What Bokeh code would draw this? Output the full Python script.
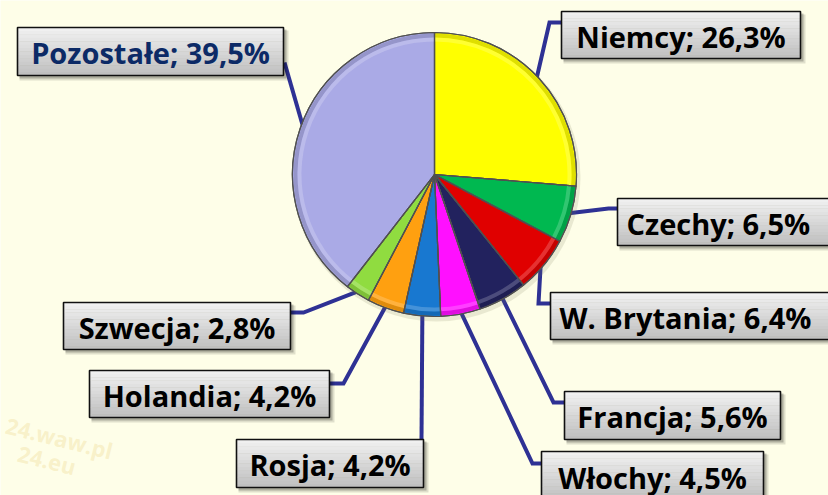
import numpy as np
from bokeh.plotting import figure
from bokeh.models import Range1d
from bokeh.core.properties import value
from bokeh.embed import file_html
from bokeh.resources import INLINE

# ---------------- data ----------------
countries = ["Niemcy", "Czechy", "W. Brytania", "Francja", "Włochy",
             "Rosja", "Holandia", "Szwecja", "Pozostałe"]
shares = [26.3, 6.5, 6.4, 5.6, 4.5, 4.2, 4.2, 2.8, 39.5]
colors = ["#FFFF00", "#00B850", "#E00000", "#22225E", "#FF10FF",
          "#1878D0", "#FFA010", "#90DC40", "#AAAAE6"]
text_colors = ["#000000"] * 8 + ["#0C2A66"]
watermark = ["24.waw.pl", "24.eu"]

# ---------------- layout (reference pixel coords, y down) ----------------
BG = "#FEFEE8"
CX_REF, CY_REF, R = 434, 174, 142
boxes = {  # x0, y0, x1, y1
    "Niemcy": (561, 11, 800, 58),
    "Czechy": (617, 198, 831, 245),
    "W. Brytania": (550, 292, 831, 339),
    "Francja": (564, 391, 780, 439),
    "Włochy": (541, 451, 763, 500),
    "Rosja": (236, 439, 423, 487),
    "Holandia": (89, 370, 329, 417),
    "Szwecja": (63, 302, 290, 349),
    "Pozostałe": (17, 27, 283, 75),
}
elbows = {  # intermediate points, then attach point on the box
    "Niemcy": [(549, 22), (561, 22)],
    "Czechy": [(608, 208), (617, 208)],
    "W. Brytania": [(538, 303), (550, 303)],
    "Francja": [(553, 402), (564, 402)],
    "Włochy": [(532, 463), (541, 463)],
    "Rosja": [(421, 440)],
    "Holandia": [(343, 383), (329, 383)],
    "Szwecja": [(303, 312), (290, 312)],
    "Pozostałe": [(284, 62)],
}

W, H = 828, 495


def Y(yref):
    return H - yref


p = figure(width=W, height=H, x_range=Range1d(0, W), y_range=Range1d(0, H),
           output_backend="svg", toolbar_location=None,
           x_axis_location=None, y_axis_location=None, min_border=0)
p.grid.visible = False
p.outline_line_color = None
p.background_fill_color = BG
p.border_fill_color = BG

# faint watermark (kept clear of the label boxes and edges)
p.text(x=[6, 18], y=[Y(424), Y(452)], text=watermark, angle=np.deg2rad(-14),
       text_font=value("Open Sans"), text_font_style="bold", text_font_size="22px",
       text_color="#F0DC98", text_alpha=0.4, text_baseline="middle")

CX, CY = CX_REF, Y(CY_REF)
frac = np.array(shares) / np.sum(shares)
cum = np.concatenate([[0.0], np.cumsum(frac)])
start = np.pi / 2 - cum[:-1] * 2 * np.pi
end = np.pi / 2 - cum[1:] * 2 * np.pi
mid = (start + end) / 2

# leader lines
for i, c in enumerate(countries):
    ax = CX + (R - 4) * np.cos(mid[i])
    ay = CY + (R - 4) * np.sin(mid[i])
    xs = [ax] + [pt[0] for pt in elbows[c]]
    ys = [ay] + [Y(pt[1]) for pt in elbows[c]]
    p.line(xs, ys, line_color="#2E3194", line_width=4, line_join="miter")

# pie shadow
p.scatter(x=[CX + 2], y=[CY - 3], size=2 * R + 4, marker="circle",
          fill_color="#707050", fill_alpha=0.15, line_color=None)

# pie
p.wedge(x=CX, y=CY, radius=R, start_angle=start, end_angle=end,
        direction="clock", fill_color=colors, line_color="#5A5A5A", line_width=1.2)


def blend(hexc, other, t):
    a = np.array([int(hexc[k:k + 2], 16) for k in (1, 3, 5)])
    b = np.array([int(other[k:k + 2], 16) for k in (1, 3, 5)])
    v = np.clip(np.round(a * (1 - t) + b * t), 0, 255).astype(int)
    return "#%02X%02X%02X" % tuple(v)


rim_light = [blend(c, "#FFFFFF", 0.35) for c in colors]
rim_dark = [blend(c, "#000000", 0.18) for c in colors]
p.annular_wedge(x=CX, y=CY, inner_radius=R - 5, outer_radius=R - 1,
                start_angle=start, end_angle=end, direction="clock",
                fill_color=rim_dark, fill_alpha=0.7, line_color=None)
p.annular_wedge(x=CX, y=CY, inner_radius=R - 9, outer_radius=R - 5,
                start_angle=start, end_angle=end, direction="clock",
                fill_color=rim_light, fill_alpha=0.55, line_color=None)
p.wedge(x=CX, y=CY, radius=R, start_angle=start, end_angle=end,
        direction="clock", fill_color=None, line_color="#505050", line_width=1.2)

# label boxes
NS = 14
for i, c in enumerate(countries):
    x0, y0, x1, y1 = boxes[c]
    # shadow
    p.quad(left=x0 + 2, right=x1 + 5, top=Y(y0 + 3), bottom=Y(y1 + 5),
           fill_color="#000000", fill_alpha=0.12, line_color=None)
    p.quad(left=x0 + 2, right=x1 + 3, top=Y(y0 + 2), bottom=Y(y1 + 3),
           fill_color="#000000", fill_alpha=0.22, line_color=None)
    hs = (y1 - y0) / NS
    lefts, rights, tops, bottoms, fills = [], [], [], [], []
    for k in range(NS):
        t = k / (NS - 1)
        lefts.append(x0); rights.append(x1)
        tops.append(Y(y0 + k * hs)); bottoms.append(Y(y0 + (k + 1) * hs) - 0.3)
        fills.append(blend("#F0F0F0", "#C0C0C0", t))
    p.quad(left=lefts, right=rights, top=tops, bottom=bottoms,
           fill_color=fills, line_color=None)
    p.quad(left=x0, right=x1, top=Y(y0), bottom=Y(y1),
           fill_color=None, line_color="#101010", line_width=1.6)
    pct = ("%.1f" % shares[i]).replace(".", ",")
    clipped = x1 > W
    p.text(x=[x0 + 9 if clipped else (x0 + x1) / 2], y=[Y((y0 + y1) / 2 + 1)],
           text=[f"{c}; {pct}%"],
           text_align="left" if clipped else "center", text_baseline="middle",
           text_font=value("Open Sans"), text_font_style="bold", text_font_size="29px",
           text_color=text_colors[i])

open("out.html", "w").write(file_html(p, INLINE))
